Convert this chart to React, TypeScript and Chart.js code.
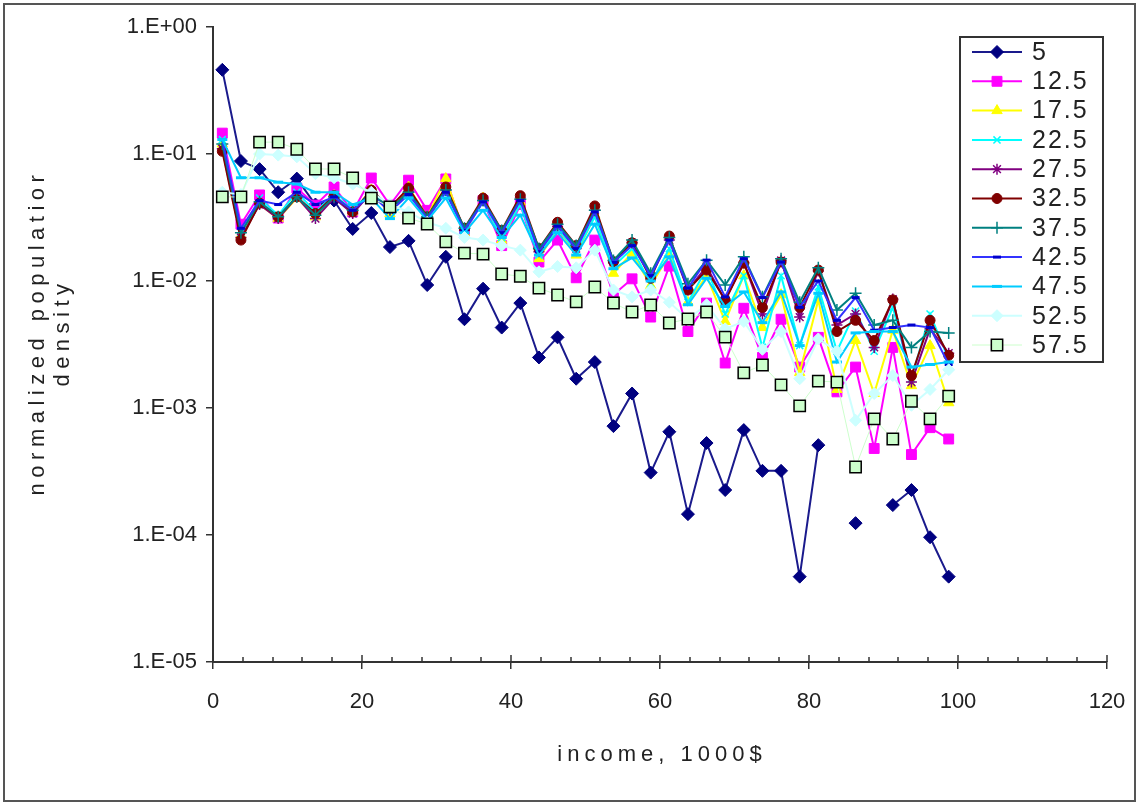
import React, { useEffect, useRef } from 'react';
import { Chart, registerables } from 'chart.js';

Chart.register(...registerables);

// ---------------- DATA ----------------
const incomeK = [
  1.25, 3.75, 6.25, 8.75, 11.25, 13.75, 16.25, 18.75, 21.25, 23.75,
  26.25, 28.75, 31.25, 33.75, 36.25, 38.75, 41.25, 43.75, 46.25, 48.75,
  51.25, 53.75, 56.25, 58.75, 61.25, 63.75, 66.25, 68.75, 71.25, 73.75,
  76.25, 78.75, 81.25, 83.75, 86.25, 88.75, 91.25, 93.75, 96.25, 98.75,
];

const seriesNames = ['5', '12.5', '17.5', '22.5', '27.5', '32.5', '37.5', '42.5', '47.5', '52.5', '57.5'];

const s5 = [0.46, 0.088, 0.076, 0.05, 0.064, 0.04, 0.043, 0.0257, 0.0343, 0.0185, 0.0207, 0.0093, 0.0155, 0.005, 0.0087, 0.0043, 0.0067, 0.0025, 0.0036, 0.0017, 0.0023, 0.00072, 0.0013, 0.00031, 0.00065, 0.000146, 0.00053, 0.000226, 0.00067, 0.00032, 0.00032, 0.000047, 0.00051, null, 0.000124, null, 0.000172, 0.000226, 0.000096, 0.000047];
const s12_5 = [0.146, 0.028, 0.0476, 0.0313, 0.054, 0.0396, 0.055, 0.035, 0.0647, 0.0396, 0.0622, 0.036, 0.0636, 0.0239, 0.043, 0.019, 0.04, 0.0141, 0.021, 0.0106, 0.021, 0.0078, 0.0104, 0.0052, 0.0131, 0.004, 0.0067, 0.00226, 0.0061, 0.0025, 0.005, 0.0021, 0.0036, 0.00134, 0.0021, 0.00048, 0.003, 0.00043, 0.0007, 0.00057];
const s17_5 = [0.12, 0.023, 0.04, 0.031, 0.045, 0.032, 0.047, 0.035, 0.052, 0.034, 0.055, 0.032, 0.064, 0.024, 0.045, 0.021, 0.042, 0.015, 0.026, 0.016, 0.033, 0.0115, 0.0166, 0.0092, 0.016, 0.0068, 0.011, 0.0048, 0.011, 0.0043, 0.0078, 0.0019, 0.0071, 0.0014, 0.0034, 0.0013, 0.0041, 0.0015, 0.0031, 0.0011];
const s22_5 = [0.13, 0.024, 0.045, 0.033, 0.05, 0.035, 0.048, 0.036, 0.05, 0.036, 0.05, 0.031, 0.05, 0.025, 0.042, 0.022, 0.04, 0.016, 0.026, 0.017, 0.032, 0.013, 0.018, 0.0095, 0.018, 0.0068, 0.0125, 0.0055, 0.011, 0.003, 0.011, 0.0031, 0.009, 0.0028, 0.0058, 0.0028, 0.0062, 0.0017, 0.0055, 0.0024];
const s27_5 = [0.11, 0.022, 0.04, 0.031, 0.046, 0.031, 0.045, 0.034, 0.05, 0.036, 0.051, 0.031, 0.052, 0.025, 0.043, 0.024, 0.045, 0.017, 0.027, 0.018, 0.036, 0.014, 0.02, 0.011, 0.021, 0.0085, 0.013, 0.007, 0.014, 0.0055, 0.0145, 0.0052, 0.012, 0.0045, 0.0055, 0.003, 0.0072, 0.0016, 0.0042, 0.0027];
const s32_5 = [0.105, 0.021, 0.041, 0.032, 0.046, 0.034, 0.047, 0.035, 0.052, 0.038, 0.054, 0.032, 0.055, 0.026, 0.045, 0.025, 0.047, 0.018, 0.029, 0.019, 0.039, 0.0142, 0.02, 0.0105, 0.0226, 0.0085, 0.0122, 0.0071, 0.0138, 0.0062, 0.0141, 0.0062, 0.0122, 0.004, 0.0049, 0.0034, 0.0071, 0.0018, 0.0049, 0.0026];
const s37_5 = [0.12, 0.024, 0.042, 0.032, 0.046, 0.033, 0.046, 0.036, 0.05, 0.037, 0.05, 0.032, 0.052, 0.026, 0.043, 0.025, 0.044, 0.018, 0.028, 0.019, 0.036, 0.0145, 0.021, 0.0115, 0.022, 0.0095, 0.0146, 0.0093, 0.0155, 0.0075, 0.015, 0.0068, 0.0127, 0.0059, 0.008, 0.0045, 0.0049, 0.003, 0.004, 0.0039];
const s42_5 = [0.13, 0.026, 0.043, 0.04, 0.05, 0.04, 0.046, 0.036, 0.048, 0.035, 0.048, 0.031, 0.05, 0.025, 0.042, 0.024, 0.043, 0.017, 0.027, 0.018, 0.035, 0.014, 0.019, 0.011, 0.021, 0.0088, 0.0146, 0.0075, 0.015, 0.0074, 0.0141, 0.0062, 0.01, 0.0049, 0.0074, 0.0041, 0.0043, 0.0045, 0.0043, 0.0022];
const s47_5 = [0.13, 0.065, 0.065, 0.06, 0.058, 0.05, 0.05, 0.04, 0.045, 0.031, 0.045, 0.03, 0.045, 0.024, 0.036, 0.022, 0.033, 0.016, 0.024, 0.016, 0.028, 0.0125, 0.0152, 0.01, 0.0155, 0.0065, 0.0105, 0.0063, 0.0082, 0.0047, 0.0082, 0.0031, 0.008, 0.0023, 0.0039, 0.004, 0.004, 0.0021, 0.0022, 0.0023];
const s52_5 = [0.05, 0.048, 0.1, 0.098, 0.095, 0.07, 0.065, 0.058, 0.05, 0.04, 0.035, 0.029, 0.026, 0.022, 0.021, 0.019, 0.0175, 0.0118, 0.013, 0.0127, 0.0175, 0.0085, 0.0075, 0.0085, 0.0068, 0.005, 0.0065, 0.0042, 0.0048, 0.0029, 0.004, 0.0017, 0.0035, 0.0028, 0.0008, 0.0013, 0.0018, 0.00105, 0.0014, 0.002];
const s57_5 = [0.0459, 0.0459, 0.124, 0.124, 0.109, 0.0762, 0.0762, 0.0647, 0.045, 0.0383, 0.0313, 0.0281, 0.0203, 0.0166, 0.0163, 0.01135, 0.0109, 0.0088, 0.00776, 0.00684, 0.00897, 0.00671, 0.0057, 0.00647, 0.00467, 0.00502, 0.0057, 0.00362, 0.00189, 0.00218, 0.00152, 0.00104, 0.00163, 0.0016, 0.000343, 0.00082, 0.00057, 0.00113, 0.00082, 0.00124];

const seriesValues = [s5, s12_5, s17_5, s22_5, s27_5, s32_5, s37_5, s42_5, s47_5, s52_5, s57_5];

const yTickValues = [1e-5, 1e-4, 1e-3, 1e-2, 1e-1, 1];
const yTickLabels = ['1.E-05', '1.E-04', '1.E-03', '1.E-02', '1.E-01', '1.E+00'];
const xTickLabels = ['0', '20', '40', '60', '80', '100', '120'];
const xTitle = 'income, 1000$';
const yTitle = ['normalized populatior', 'density'];

// ---------------- STYLES ----------------
type Sty = { line: string; lw: number; marker: string; r: number; fill: string; stroke: string; bw: number };
const styles: Sty[] = [
  { line: '#1a1a8c', lw: 2, marker: 'rectRot', r: 6.5, fill: '#000080', stroke: '#000080', bw: 1 },
  { line: '#ff00ff', lw: 2, marker: 'rect', r: 7, fill: '#ff00ff', stroke: '#ff00ff', bw: 1 },
  { line: '#ffff00', lw: 2, marker: 'triangle', r: 6, fill: '#ffff00', stroke: '#ffff00', bw: 1 },
  { line: '#00ffff', lw: 2, marker: 'crossRot', r: 5, fill: '#00ffff', stroke: '#00ffff', bw: 1.5 },
  { line: '#800080', lw: 2, marker: 'star', r: 5.5, fill: '#800080', stroke: '#800080', bw: 1.5 },
  { line: '#800000', lw: 2, marker: 'circle', r: 5, fill: '#800000', stroke: '#800000', bw: 1 },
  { line: '#008080', lw: 2, marker: 'cross', r: 6, fill: '#008080', stroke: '#008080', bw: 1.5 },
  { line: '#3333ff', lw: 2, marker: 'line', r: 4, fill: '#0000cc', stroke: '#0000cc', bw: 3 },
  { line: '#00ccff', lw: 2, marker: 'line', r: 5, fill: '#00ccff', stroke: '#00ccff', bw: 3 },
  { line: '#ccffff', lw: 2, marker: 'rectRot', r: 6, fill: '#ccffff', stroke: '#ccffff', bw: 1 },
  { line: '#ccffcc', lw: 1, marker: 'rect', r: 8, fill: '#ccffcc', stroke: '#000000', bw: 1.5 },
];

const FONT = '"Liberation Sans", Arial, sans-serif';

function drawMarker(ctx: CanvasRenderingContext2D, s: Sty, x: number, y: number) {
  const r = s.r;
  ctx.save();
  ctx.fillStyle = s.fill;
  ctx.strokeStyle = s.stroke;
  ctx.lineWidth = s.bw;
  ctx.beginPath();
  switch (s.marker) {
    case 'rectRot':
      ctx.moveTo(x, y - r); ctx.lineTo(x + r, y); ctx.lineTo(x, y + r); ctx.lineTo(x - r, y); ctx.closePath();
      ctx.fill(); ctx.stroke(); break;
    case 'rect': {
      const h = r * Math.SQRT1_2;
      ctx.rect(x - h, y - h, 2 * h, 2 * h); ctx.fill(); ctx.stroke(); break;
    }
    case 'triangle':
      ctx.moveTo(x, y - r); ctx.lineTo(x + r * 0.866, y + r * 0.5); ctx.lineTo(x - r * 0.866, y + r * 0.5); ctx.closePath();
      ctx.fill(); ctx.stroke(); break;
    case 'crossRot': {
      const d = r * Math.SQRT1_2;
      ctx.moveTo(x - d, y - d); ctx.lineTo(x + d, y + d); ctx.moveTo(x + d, y - d); ctx.lineTo(x - d, y + d); ctx.stroke(); break;
    }
    case 'star': {
      const d = r * Math.SQRT1_2;
      ctx.moveTo(x - d, y - d); ctx.lineTo(x + d, y + d); ctx.moveTo(x + d, y - d); ctx.lineTo(x - d, y + d);
      ctx.moveTo(x, y - r); ctx.lineTo(x, y + r); ctx.moveTo(x - r, y); ctx.lineTo(x + r, y); ctx.stroke(); break;
    }
    case 'circle':
      ctx.arc(x, y, r, 0, Math.PI * 2); ctx.fill(); ctx.stroke(); break;
    case 'cross':
      ctx.moveTo(x, y - r); ctx.lineTo(x, y + r); ctx.moveTo(x - r, y); ctx.lineTo(x + r, y); ctx.stroke(); break;
    case 'line':
      ctx.moveTo(x - r, y); ctx.lineTo(x + r, y); ctx.stroke(); break;
  }
  ctx.restore();
}

const decorPlugin = {
  id: 'excelDecor',
  afterDraw(chart: any) {
    const ctx: CanvasRenderingContext2D = chart.ctx;
    const ca = chart.chartArea;
    const xs = chart.scales.x;
    ctx.save();
    // x-axis minor ticks (inside) and upper half of major ticks
    ctx.strokeStyle = '#333';
    ctx.lineWidth = 1.5;
    for (let v = 0; v <= 120; v += 4) {
      const px = Math.round(xs.getPixelForValue(v));
      const major = v % 20 === 0;
      ctx.beginPath();
      ctx.moveTo(px, ca.bottom);
      ctx.lineTo(px, ca.bottom - (major ? 7 : 5));
      ctx.stroke();
    }
    // axis titles
    ctx.fillStyle = '#222';
    ctx.font = `22px ${FONT}`;
    ctx.textAlign = 'center';
    ctx.textBaseline = 'middle';
    (ctx as any).letterSpacing = '5px';
    ctx.fillText(xTitle, (ca.left + ca.right) / 2 + 2, ca.bottom + 93);
    (ctx as any).letterSpacing = '5.5px';
    ctx.save();
    ctx.translate(ca.left - 175, (ca.top + ca.bottom) / 2 - 12);
    ctx.rotate(-Math.PI / 2);
    ctx.fillText(yTitle[0], 0, 0);
    ctx.restore();
    ctx.save();
    ctx.translate(ca.left - 150, (ca.top + ca.bottom) / 2 - 12);
    ctx.rotate(-Math.PI / 2);
    ctx.fillText(yTitle[1], 0, 0);
    ctx.restore();
    (ctx as any).letterSpacing = '0px';

    // legend
    const lx = 960, ly = 37, lw = 143, lh = 325;
    ctx.fillStyle = '#ffffff';
    ctx.fillRect(lx, ly, lw, lh);
    ctx.strokeStyle = '#333';
    ctx.lineWidth = 2;
    ctx.strokeRect(lx, ly, lw, lh);
    const rowH = 29.3;
    ctx.font = `25px ${FONT}`;
    (ctx as any).letterSpacing = '2px';
    ctx.textAlign = 'left';
    ctx.textBaseline = 'middle';
    chart.data.datasets.forEach((ds: any, i: number) => {
      const s = styles[i];
      const cy = ly + 15 + i * rowH;
      ctx.strokeStyle = s.line;
      ctx.lineWidth = s.lw;
      ctx.beginPath();
      ctx.moveTo(972, cy);
      ctx.lineTo(1022, cy);
      ctx.stroke();
      drawMarker(ctx, s, 997, cy);
      ctx.fillStyle = '#222';
      ctx.fillText(ds.label, 1032, cy + 1);
    });
    (ctx as any).letterSpacing = '0px';
    ctx.restore();
  },
};

export default function App() {
  const ref = useRef<HTMLCanvasElement | null>(null);
  useEffect(() => {
    document.body.style.margin = '0';
    const canvas = ref.current!;
    const datasets = seriesValues.map((vals, i) => {
      const s = styles[i];
      return {
        label: seriesNames[i],
        data: incomeK.map((x, k) => ({ x, y: vals[k] })),
        borderColor: s.line,
        borderWidth: s.lw,
        backgroundColor: s.fill,
        pointStyle: s.marker,
        pointRadius: s.r,
        pointBackgroundColor: s.fill,
        pointBorderColor: s.stroke,
        pointBorderWidth: s.bw,
        tension: 0,
        spanGaps: false,
        order: seriesNames.length - i,
      };
    });
    const tickFont = { family: FONT, size: 22 };
    const chart = new Chart(canvas, {
      type: 'line',
      data: { datasets } as any,
      options: {
        responsive: false,
        animation: false,
        devicePixelRatio: 1,
        layout: { padding: { left: 0, top: 27, right: 32, bottom: 23 } },
        plugins: { legend: { display: false }, tooltip: { enabled: false } },
        scales: {
          x: {
            type: 'linear',
            min: 0,
            max: 120,
            position: 'bottom',
            ticks: {
              stepSize: 20,
              autoSkip: false,
              maxRotation: 0,
              padding: 20,
              color: '#222',
              font: tickFont,
              callback: (_v: any, i: number) => xTickLabels[i] ?? '',
            },
            grid: { display: true, drawOnChartArea: false, drawTicks: true, tickLength: 7, color: '#333', lineWidth: 1.5 },
            border: { display: true, color: '#333', width: 2 },
            afterFit: (s: any) => { s.height = 120; s.paddingRight = 0; s.paddingLeft = 0; },
          },
          y: {
            type: 'logarithmic',
            min: 1e-5,
            max: 1,
            position: 'left',
            afterBuildTicks: (s: any) => { s.ticks = yTickValues.map((v) => ({ value: v })); },
            ticks: {
              autoSkip: false,
              padding: 9,
              color: '#222',
              font: tickFont,
              callback: (_v: any, i: number) => yTickLabels[i],
            },
            grid: { display: true, drawOnChartArea: false, drawTicks: true, tickLength: 7, color: '#333', lineWidth: 1.5 },
            border: { display: true, color: '#333', width: 2 },
            afterFit: (s: any) => { s.width = 213; },
          },
        },
      } as any,
      plugins: [decorPlugin],
    });
    return () => chart.destroy();
  }, []);

  return (
    <div style={{ position: 'relative', width: 1139, height: 805, background: '#fff' }}>
      <canvas ref={ref} width={1139} height={805} style={{ display: 'block', width: 1139, height: 805 }} />
      <div
        style={{
          position: 'absolute', left: 3, top: 3, width: 1133, height: 799,
          border: '2px solid #555', boxSizing: 'border-box', pointerEvents: 'none',
        }}
      />
    </div>
  );
}
